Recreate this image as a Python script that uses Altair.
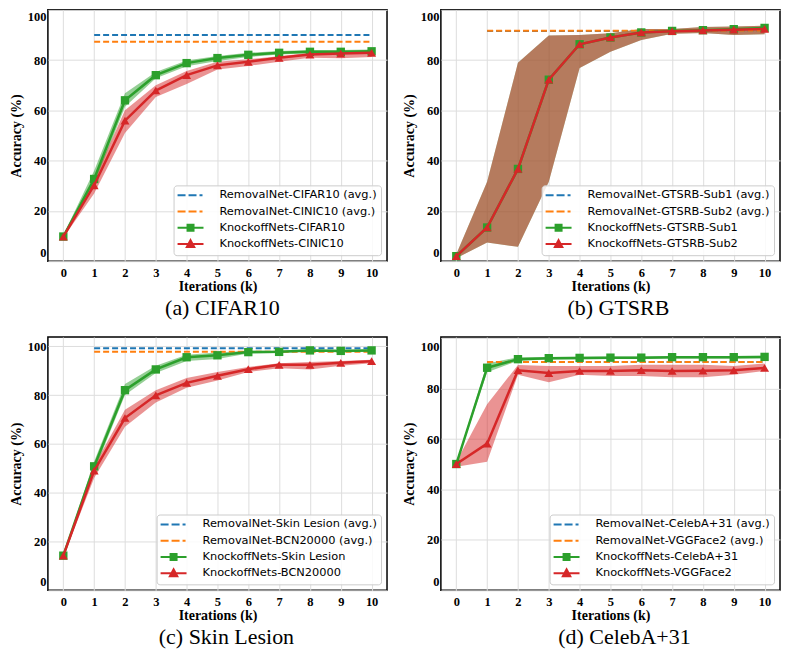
import altair as alt
import pandas as pd

K = list(range(11))
K_REF = [1, 10]
COLORS = ["#1f77b4", "#ff7f0e", "#2ca02c", "#d62728"]
Y_TICKS = [0, 20, 40, 60, 80, 100]

# ---------------- (a) CIFAR10 ----------------
A_NAMES = ["RemovalNet-CIFAR10 (avg.)", "RemovalNet-CINIC10 (avg.)",
           "KnockoffNets-CIFAR10", "KnockoffNets-CINIC10"]
A_REF = [90.0, 87.3]
A_G = [9.8, 32.7, 64.0, 74.0, 78.8, 80.8, 82.1, 82.9, 83.3, 83.3, 83.5]
A_G_LO = [9.3, 30.5, 61.4, 72.8, 77.6, 79.6, 81.2, 82.2, 82.7, 82.7, 82.8]
A_G_HI = [10.3, 36.0, 66.8, 75.3, 79.8, 81.6, 82.9, 83.6, 84.0, 84.0, 84.2]
A_R = [9.8, 30.2, 55.9, 67.9, 74.0, 77.9, 79.3, 80.9, 82.2, 82.6, 82.9]
A_R_LO = [9.3, 26.9, 51.0, 65.3, 70.5, 76.3, 77.7, 79.3, 80.9, 80.7, 81.2]
A_R_HI = [10.3, 32.7, 60.0, 70.0, 75.7, 79.3, 80.3, 81.5, 82.9, 83.1, 83.5]

# ---------------- (b) GTSRB ----------------
B_NAMES = ["RemovalNet-GTSRB-Sub1 (avg.)", "RemovalNet-GTSRB-Sub2 (avg.)",
           "KnockoffNets-GTSRB-Sub1", "KnockoffNets-GTSRB-Sub2"]
B_REF = [91.6, 91.7]
B_G = [2.0, 13.4, 36.7, 72.2, 86.3, 89.0, 91.0, 91.6, 91.9, 92.3, 92.8]
B_G_LO = [1.2, 7.4, 5.7, 31.6, 76.9, 83.3, 88.0, 90.5, 90.8, 90.0, 90.3]
B_G_HI = [2.8, 31.6, 78.9, 89.8, 90.0, 90.7, 92.4, 92.4, 93.2, 93.4, 93.7]
B_R = [2.0, 13.4, 36.7, 72.2, 86.3, 89.0, 91.0, 91.5, 91.8, 92.1, 92.4]
B_R_LO = [1.2, 7.4, 5.7, 31.6, 76.9, 83.3, 88.0, 90.5, 90.8, 90.0, 90.3]
B_R_HI = [2.8, 31.6, 78.9, 89.8, 90.0, 90.7, 92.4, 92.4, 93.2, 93.4, 93.7]

# ---------------- (c) Skin Lesion ----------------
C_NAMES = ["RemovalNet-Skin Lesion (avg.)", "RemovalNet-BCN20000 (avg.)",
           "KnockoffNets-Skin Lesion", "KnockoffNets-BCN20000"]
C_REF = [99.2, 97.7]
C_G = [14.2, 50.8, 82.0, 90.5, 95.5, 96.3, 97.6, 97.7, 98.3, 98.1, 98.3]
C_G_LO = [13.7, 48.8, 80.0, 89.0, 94.0, 94.8, 97.0, 97.2, 97.8, 97.6, 97.8]
C_G_HI = [14.7, 52.8, 84.5, 92.0, 96.5, 97.4, 98.2, 98.2, 98.8, 98.6, 98.8]
C_R = [14.2, 49.0, 70.6, 79.9, 85.0, 87.9, 90.6, 92.4, 92.4, 93.2, 93.9]
C_R_LO = [13.7, 46.0, 67.0, 77.0, 83.0, 86.0, 89.5, 91.0, 90.5, 92.0, 93.0]
C_R_HI = [14.7, 51.0, 74.0, 82.0, 87.0, 89.5, 91.5, 93.0, 93.5, 94.0, 94.5]

# ---------------- (d) CelebA+31 ----------------
D_NAMES = ["RemovalNet-CelebA+31 (avg.)", "RemovalNet-VGGFace2 (avg.)",
           "KnockoffNets-CelebA+31", "KnockoffNets-VGGFace2"]
D_REF = [90.6, 90.6]
D_G = [50.1, 88.3, 91.7, 92.1, 92.2, 92.3, 92.3, 92.5, 92.5, 92.5, 92.6]
D_G_LO = [49.6, 86.5, 91.0, 91.6, 91.7, 91.8, 91.8, 92.0, 92.0, 92.0, 92.1]
D_G_HI = [50.6, 90.0, 92.5, 92.6, 92.7, 92.8, 92.8, 93.0, 93.0, 93.0, 93.1]
D_R = [50.1, 58.2, 87.3, 86.2, 87.0, 87.0, 87.3, 87.0, 87.1, 87.3, 88.2]
D_R_LO = [49.0, 51.0, 85.5, 82.5, 85.5, 85.0, 85.0, 84.5, 84.5, 85.5, 87.0]
D_R_HI = [51.0, 73.8, 89.4, 89.0, 89.0, 89.0, 89.5, 89.5, 89.5, 89.0, 90.0]

# legend symbols: dashed segment, line+square, line+triangle
SYM_DASH = "M-2.6,0H-1M-0.4,0H1.2M1.8,0H2.4"
SYM_SQUARE = "M-2.6,0H2.6M-0.6,-0.6H0.6V0.6H-0.6Z"
SYM_TRI = "M-2.6,0H2.6M0,-0.8L0.75,0.6H-0.75Z"

SERIF = "Liberation Serif"

AXIS_STYLE = dict(labelFont=SERIF, labelFontWeight="bold", labelFontSize=12.5, labelColor="black",
                  titleFont=SERIF, titleFontWeight="bold", titleFontSize=14, titleColor="black",
                  ticks=False, domain=False, grid=True, gridColor="#dddddd", gridWidth=1)
x_axis = alt.Axis(values=K, format="d", title="Iterations (k)",
                  labelPadding=5, titlePadding=1, **AXIS_STYLE)


def panel(names, ref_vals, g, g_lo, g_hi, r, r_lo, r_hi, caption, width, height, dx,
          y_top, top_off):
    ref1_df = pd.DataFrame({"k": K_REF, "acc": [ref_vals[0]] * 2})
    ref2_df = pd.DataFrame({"k": K_REF, "acc": [ref_vals[1]] * 2})
    g_df = pd.DataFrame({"k": K, "acc": g, "lo": g_lo, "hi": g_hi})
    r_df = pd.DataFrame({"k": K, "acc": r, "lo": r_lo, "hi": r_hi})
    leg_df = pd.DataFrame({"series": names, "k": [0] * 4, "acc": [0] * 4})

    y_axis = alt.Axis(values=Y_TICKS, format="d", title="Accuracy (%)",
                      labelPadding=2, titlePadding=4,
                      labelOffset={"expr": f"datum.value == 0 ? -9 : (datum.value == 100 ? {top_off} : 0)"},
                      **AXIS_STYLE)
    xs = alt.Scale(domain=[-0.5, 10.5], nice=False, zero=False)
    ys = alt.Scale(domain=[0, y_top], nice=False, zero=False)
    x = alt.X("k:Q", scale=xs, axis=x_axis)
    y = alt.Y("acc:Q", scale=ys, axis=y_axis)
    ylo = alt.Y("lo:Q", scale=ys, axis=y_axis)

    band_g = alt.Chart(g_df).mark_area(opacity=0.5, color=COLORS[2]).encode(x=x, y=ylo, y2="hi:Q")
    band_r = alt.Chart(r_df).mark_area(opacity=0.5, color=COLORS[3]).encode(x=x, y=ylo, y2="hi:Q")
    ref1 = alt.Chart(ref1_df).mark_line(strokeWidth=2, strokeDash=[6, 3], color=COLORS[0]).encode(x=x, y=y)
    ref2 = alt.Chart(ref2_df).mark_line(strokeWidth=2, strokeDash=[6, 3], color=COLORS[1]).encode(x=x, y=y)
    line_g = alt.Chart(g_df).mark_line(strokeWidth=2.5, color=COLORS[2]).encode(x=x, y=y)
    pts_g = alt.Chart(g_df).mark_point(filled=True, shape="square", size=70, opacity=1,
                                       color=COLORS[2]).encode(x=x, y=y)
    line_r = alt.Chart(r_df).mark_line(strokeWidth=2.5, color=COLORS[3]).encode(x=x, y=y)
    pts_r = alt.Chart(r_df).mark_point(filled=True, shape="triangle-up", size=80, opacity=1,
                                       color=COLORS[3]).encode(x=x, y=y)

    legend = alt.Legend(title=None, orient="bottom-right", offset=6, padding=4,
                        fillColor="rgba(255,255,255,0.85)", strokeColor="#cccccc",
                        cornerRadius=3, labelFont="DejaVu Sans", labelFontSize=11.4,
                        labelColor="black", symbolSize=100, symbolStrokeWidth=2,
                        symbolOffset=7, labelOffset=23, rowPadding=1.3, gridAlign="all",
                        labelLimit=400, symbolOpacity=1)
    fill = alt.Fill("series:N", scale=alt.Scale(domain=names, range=COLORS), legend=legend)
    stroke = alt.Stroke("series:N", scale=alt.Scale(domain=names, range=COLORS), legend=legend)
    shape = alt.Shape("series:N",
                      scale=alt.Scale(domain=names, range=[SYM_DASH, SYM_DASH, SYM_SQUARE, SYM_TRI]),
                      legend=legend)
    leg = alt.Chart(leg_df).mark_point(filled=True, opacity=0).encode(
        x=x, y=y, fill=fill, stroke=stroke, shape=shape)

    return alt.layer(band_g, band_r, ref1, ref2, line_g, pts_g, line_r, pts_r, leg).properties(
        width=width, height=height,
        title=alt.TitleParams(caption, orient="bottom", font=SERIF, fontSize=22,
                              fontWeight="normal", color="black", offset=4,
                              frame="group", dx=dx),
    )


W = 340
pa = panel(A_NAMES, A_REF, A_G, A_G_LO, A_G_HI, A_R, A_R_LO, A_R_HI, "(a) CIFAR10", W, 252, 5, 100, 7)
pb = panel(B_NAMES, B_REF, B_G, B_G_LO, B_G_HI, B_R, B_R_LO, B_R_HI, "(b) GTSRB", W, 252, 8, 100, 7)
pc = panel(C_NAMES, C_REF, C_G, C_G_LO, C_G_HI, C_R, C_R_LO, C_R_HI, "(c) Skin Lesion", W, 254, 9, 103.8, 0)
pd_ = panel(D_NAMES, D_REF, D_G, D_G_LO, D_G_HI, D_R, D_R_LO, D_R_HI, "(d) CelebA+31", W, 254, 14, 100.5, 8)

chart = alt.concat(pa, pb, pc, pd_, columns=2, spacing={"row": 16, "column": 13}).resolve_scale(
    fill="independent", stroke="independent", shape="independent"
).resolve_legend(
    fill="independent", stroke="independent", shape="independent"
).properties(padding=0, background="white").configure_view(
    stroke="black", strokeWidth=1.5
)

chart.save("out.html", embed_options={"renderer": "svg", "actions": False})
